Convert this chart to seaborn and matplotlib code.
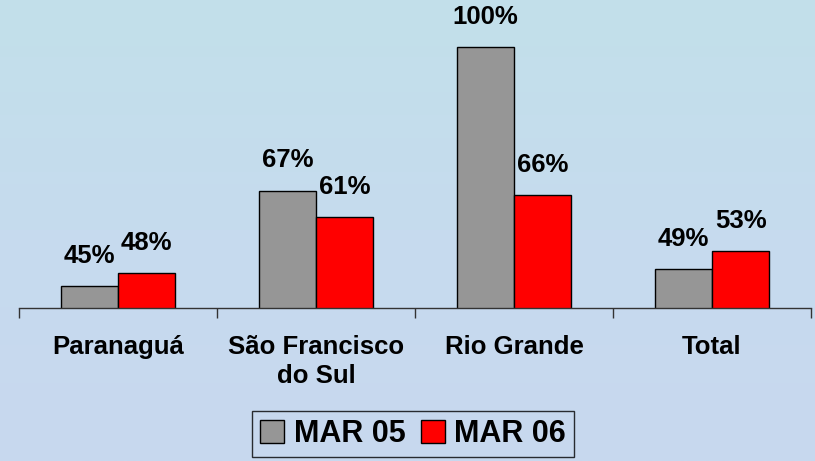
import numpy as np
import pandas as pd
import matplotlib.pyplot as plt
import matplotlib.colors as mcolors
from matplotlib.ticker import FixedLocator
import seaborn as sns

# Dados do gráfico
portos = ['Paranaguá', 'São Francisco\ndo Sul', 'Rio Grande', 'Total']
periodos = ['MAR 05', 'MAR 06']
mar05 = [45, 67, 100, 49]
mar06 = [48, 61, 66, 53]
cores = ['#969696', '#ff0000']

df = pd.DataFrame({
    'porto': portos * 2,
    'periodo': [periodos[0]] * len(portos) + [periodos[1]] * len(portos),
    'valor': mar05 + mar06,
})

sns.set_style('white')
plt.rcParams['font.family'] = ['Liberation Sans', 'DejaVu Sans']

fig = plt.figure(figsize=(8.15, 4.61), dpi=100)

# fundo em degradê azul claro
bg = fig.add_axes([0, 0, 1, 1], zorder=-10)
cmap = mcolors.LinearSegmentedColormap.from_list('fundo', ['#c2e0ea', '#c6dbee', '#c8d8ef'])
grad = np.linspace(0, 1, 256).reshape(-1, 1)
bg.imshow(grad, aspect='auto', cmap=cmap, extent=[0, 1, 0, 1], origin='upper')
bg.axis('off')

ax = fig.add_axes([19 / 815, 1 - 307.7 / 461, 792 / 815, 307.7 / 461])
ax.patch.set_alpha(0)

sns.barplot(data=df, x='porto', y='valor', hue='periodo', palette=cores, saturation=1,
            edgecolor='black', linewidth=1, width=0.58, ax=ax, legend=True)

ax.set_ylim(40, 40 + 307.7 / 4.34)
ax.set_xlim(-0.5, 3.5)

for cont in ax.containers:
    ax.bar_label(cont, fmt='%d%%', padding=13, fontsize=18.5, fontweight='bold', color='black')

sns.despine(ax=ax, left=True, top=True, right=True)
ax.spines['bottom'].set_color('#333333')
ax.spines['bottom'].set_linewidth(1)
ax.set_yticks([])
ax.set_xlabel('')
ax.set_ylabel('')

ax.tick_params(axis='x', which='major', length=0, pad=20)
ax.xaxis.set_minor_locator(FixedLocator([-0.5, 0.5, 1.5, 2.5, 3.5]))
ax.tick_params(axis='x', which='minor', bottom=True, length=7, width=1, color='#333333', direction='out')
for lbl in ax.get_xticklabels():
    lbl.set_fontsize(18.5)
    lbl.set_fontweight('bold')
    lbl.set_color('black')
    lbl.set_linespacing(1.25)

leg = ax.legend(loc='center', bbox_to_anchor=(413 / 815, 1 - 434 / 461),
                bbox_transform=fig.transFigure, ncol=2, frameon=True, fancybox=False,
                prop={'size': 22, 'weight': 'bold'}, handlelength=0.8, handleheight=0.8,
                handletextpad=0.3, columnspacing=0.5, borderpad=0.25)
leg.get_frame().set_edgecolor('black')
leg.get_frame().set_linewidth(1)
leg.get_frame().set_facecolor('none')
for t in leg.get_texts():
    t.set_color('black')

fig.savefig('out.png', dpi=100)
